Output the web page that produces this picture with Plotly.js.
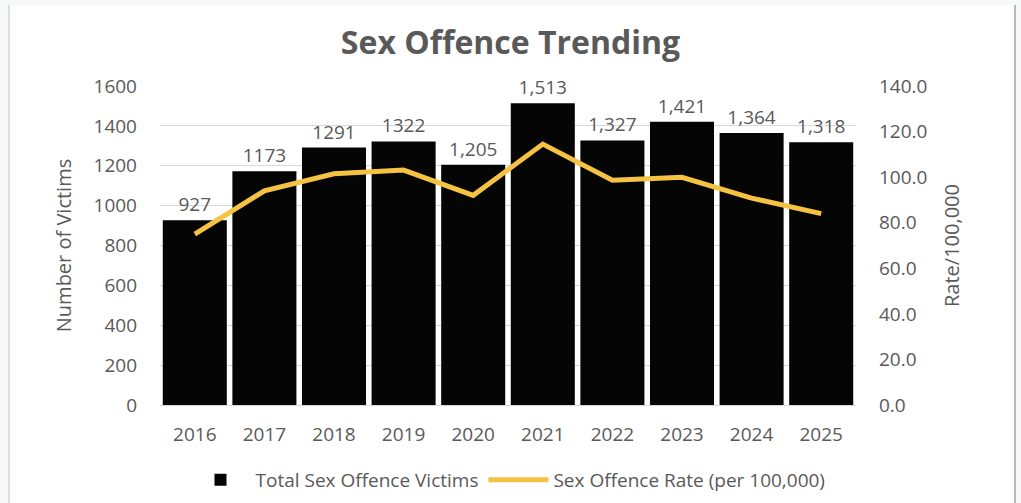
<!DOCTYPE html>
<html>
<head>
<meta charset="utf-8">
<script src="https://cdn.plot.ly/plotly-3.0.1.min.js"></script>
<style>
  html, body { margin: 0; padding: 0; width: 1021px; height: 503px; overflow: hidden; background: #f7f8fa; }
  #frame { position: absolute; left: 8px; top: 5px; width: 1004px; height: 498px; background: #ffffff;
           border-left: 2px solid #dcdcdc; border-right: 2px solid #b9b9b9; }
  #chart { position: absolute; left: 0; top: 0; width: 1021px; height: 503px; }
</style>
</head>
<body>
<div id="frame"></div>
<div id="chart"></div>
<script>
const years = ['2016','2017','2018','2019','2020','2021','2022','2023','2024','2025'];
const victims = [927, 1173, 1291, 1322, 1205, 1513, 1327, 1421, 1364, 1318];
const victimLabels = ['927','1173','1291','1322','1,205','1,513','1,327','1,421','1,364','1,318'];
const rates = [75.0, 94.0, 101.5, 103.1, 92.0, 114.5, 98.6, 99.9, 90.8, 84.0];

const FONT = 'Open Sans, Lato, sans-serif';
const GREY = '#595959';

const data = [
  {
    type: 'bar',
    name: 'Total Sex Offence Victims',
    x: years,
    y: victims,
    text: victimLabels,
    textposition: 'outside',
    cliponaxis: false,
    textfont: {family: FONT, size: 19, color: GREY},
    marker: {color: '#050505'},
    hoverinfo: 'x+y'
  },
  {
    type: 'scatter',
    mode: 'lines',
    name: 'Sex Offence Rate (per 100,000)',
    x: years,
    y: rates,
    yaxis: 'y2',
    line: {color: '#F5C242', width: 5},
    hoverinfo: 'x+y'
  }
];

const layout = {
  width: 1021,
  height: 503,
  paper_bgcolor: 'rgba(0,0,0,0)',
  plot_bgcolor: 'rgba(0,0,0,0)',
  margin: {l: 160, r: 165, t: 86, b: 98, autoexpand: false},
  bargap: 0.08,
  font: {family: FONT, color: GREY},
  title: {
    text: '<b>Sex Offence Trending</b>',
    font: {family: FONT, size: 32, color: GREY},
    x: 0.5, xanchor: 'center',
    y: 0.915, yanchor: 'middle'
  },
  xaxis: {
    type: 'category',
    showline: true,
    linecolor: '#d9d9d9',
    linewidth: 1,
    ticks: '',
    ticklabelstandoff: 12,
    tickfont: {family: FONT, size: 19, color: GREY},
    showgrid: false,
    fixedrange: true
  },
  yaxis: {
    range: [0, 1600],
    dtick: 200,
    tick0: 0,
    showgrid: true,
    gridcolor: '#d9d9d9',
    gridwidth: 1,
    zeroline: false,
    ticks: '',
    ticklabelstandoff: 22,
    tickfont: {family: FONT, size: 19, color: GREY},
    title: {text: 'Number of Victims', font: {family: FONT, size: 20, color: GREY}, standoff: 16},
    fixedrange: true
  },
  yaxis2: {
    overlaying: 'y',
    side: 'right',
    range: [0, 140],
    dtick: 20,
    tick0: 0,
    tickformat: '.1f',
    showgrid: false,
    zeroline: false,
    ticks: '',
    ticklabelstandoff: 22,
    tickfont: {family: FONT, size: 19, color: GREY},
    title: {text: 'Rate/100,000', font: {family: FONT, size: 20, color: GREY}, standoff: 18},
    fixedrange: true
  },
  showlegend: true,
  legend: {
    orientation: 'h',
    x: 0.5, xanchor: 'center',
    y: -0.235, yanchor: 'middle',
    font: {family: FONT, size: 19, color: GREY},
    itemwidth: 60,
    bgcolor: 'rgba(0,0,0,0)'
  }
};

Plotly.newPlot('chart', data, layout, {displayModeBar: false, staticPlot: true});
</script>
</body>
</html>
